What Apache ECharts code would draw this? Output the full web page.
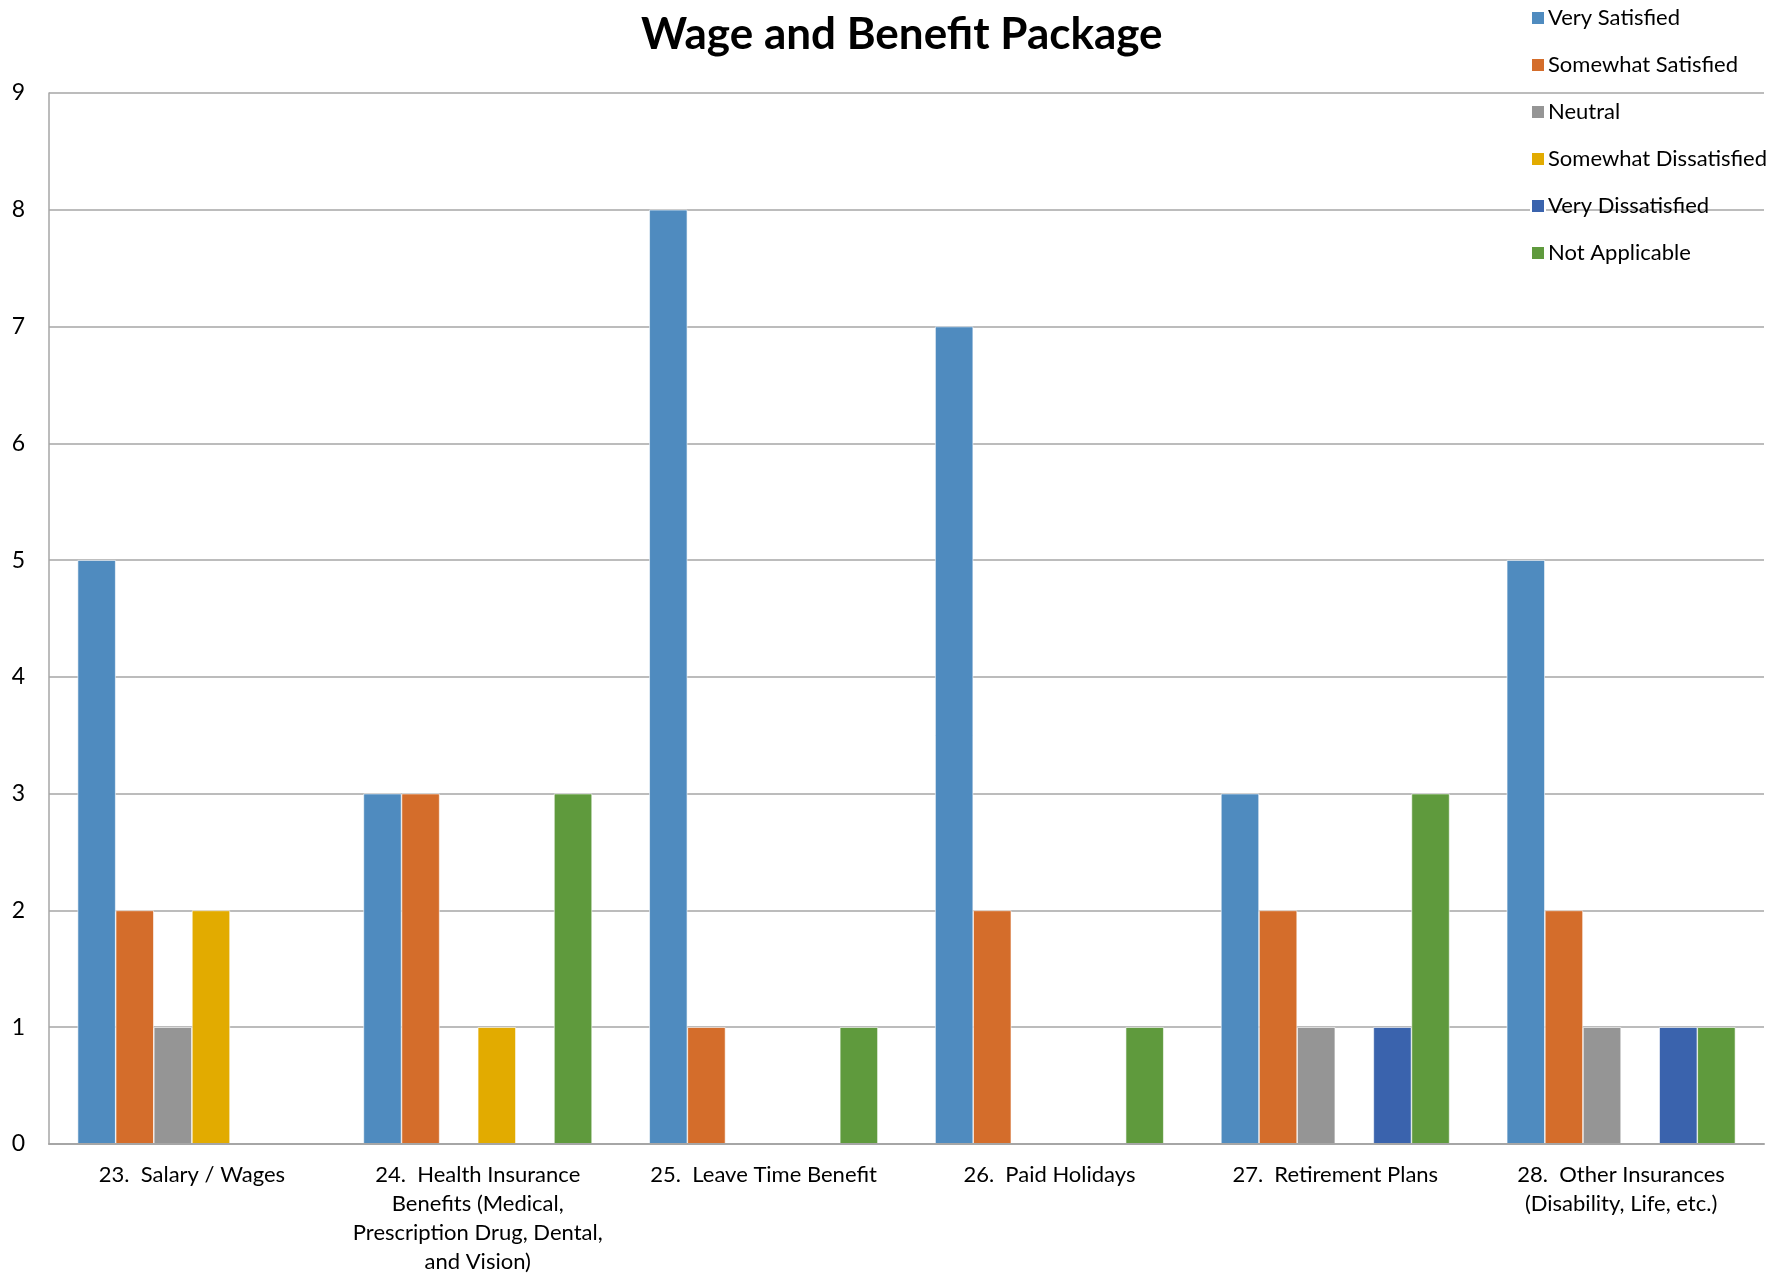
<!DOCTYPE html>
<html>
<head>
<meta charset="utf-8">
<script src="https://cdn.jsdelivr.net/npm/echarts@6/dist/echarts.min.js"></script>
<style>
html,body{margin:0;padding:0;background:#fff;}
#chart{width:1784px;height:1276px;}
</style>
</head>
<body>
<div id="chart"></div>
<script>
const categories = [
  "23.  Salary / Wages",
  "24.  Health Insurance\nBenefits (Medical,\nPrescription Drug, Dental,\nand Vision)",
  "25.  Leave Time Benefit",
  "26.  Paid Holidays",
  "27.  Retirement Plans",
  "28.  Other Insurances\n(Disability, Life, etc.)"
];
const seriesNames = ["Very Satisfied","Somewhat Satisfied","Neutral","Somewhat Dissatisfied","Very Dissatisfied","Not Applicable"];
const verySatisfied        = [5, 3, 8, 7, 3, 5];
const somewhatSatisfied    = [2, 3, 1, 2, 2, 2];
const neutral              = [1, 0, 0, 0, 1, 1];
const somewhatDissatisfied = [2, 1, 0, 0, 0, 0];
const veryDissatisfied     = [0, 0, 0, 0, 1, 1];
const notApplicable        = [0, 3, 1, 1, 3, 1];
const yTicks = [0,1,2,3,4,5,6,7,8,9];
const colors = ["#4f8bbf","#d46d2b","#959595","#e2ab00","#3a63ad","#5f9a3d"];

const seriesData = [verySatisfied, somewhatSatisfied, neutral, somewhatDissatisfied, veryDissatisfied, notApplicable];
const FONT = "Lato, 'Open Sans', sans-serif";

const chart = echarts.init(document.getElementById('chart'));
chart.setOption({
  backgroundColor: '#ffffff',
  animation: false,
  color: colors,
  title: {
    text: 'Wage and Benefit Package',
    left: 636,
    top: 8,
    textStyle: {fontFamily: FONT, fontWeight: 'bold', fontSize: 44, color: '#000'}
  },
  legend: {
    data: seriesNames,
    orient: 'vertical',
    left: 1525,
    top: 2,
    itemWidth: 14,
    itemHeight: 14,
    itemGap: 25,
    icon: 'rect',
    textStyle: {fontFamily: FONT, fontSize: 22, color: '#000', padding: [0,0,0,-2]}
  },
  grid: {left: 49, right: 20, top: 93, bottom: 131, containLabel: false},
  xAxis: {
    type: 'category',
    data: categories,
    z: 5,
    axisLine: {show: true, lineStyle: {color: '#a6a6a6', width: 2}},
    axisTick: {show: false},
    axisLabel: {fontFamily: FONT, fontSize: 22, color: '#000', margin: 16, lineHeight: 29, interval: 0}
  },
  yAxis: {
    type: 'value',
    min: yTicks[0],
    max: yTicks[yTicks.length-1],
    interval: 1,
    axisLine: {show: true, lineStyle: {color: '#a6a6a6', width: 1.5}},
    axisTick: {show: false},
    splitLine: {show: true, lineStyle: {color: '#a6a6a6', width: 1.5}},
    axisLabel: {fontFamily: FONT, fontSize: 23, color: '#000', margin: 24}
  },
  series: seriesNames.map((n, i) => ({
    name: n,
    type: 'bar',
    data: seriesData[i],
    barGap: '0%',
    barCategoryGap: '20%',
    itemStyle: {color: colors[i], borderColor: '#ffffff', borderWidth: 0.6}
  }))
});
</script>
</body>
</html>
